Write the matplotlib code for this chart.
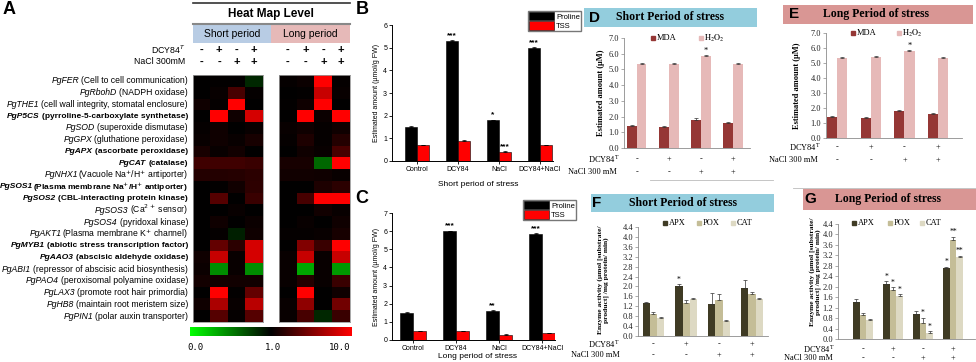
import matplotlib
matplotlib.use('Agg')
import matplotlib.pyplot as plt
import numpy as np
from matplotlib.colors import LinearSegmentedColormap, TwoSlopeNorm
from matplotlib.patches import Rectangle
from matplotlib.lines import Line2D

W, H = 976, 362

# ---------------- data ----------------
genes = ['PgFER', 'PgRbohD', 'PgTHE1', 'PgP5CS', 'PgSOD', 'PgGPX', 'PgAPX', 'PgCAT',
         'PgNHX1', 'PgSOS1', 'PgSOS2', 'PgSOS3', 'PgSOS4', 'PgAKT1', 'PgMYB1', 'PgAAO3',
         'PgABI1', 'PgPAO4', 'PgLAX3', 'PgHB8', 'PgPIN1']
gene_desc = ['(Cell to cell communication)', '(NADPH oxidase)',
             '(cell wall integrity, stomatal enclosure)', '(pyrroline-5-carboxylate synthetase)',
             '(superoxide dismutase)', '(gluthatione peroxidase)', '(ascorbate peroxidase)',
             '(catalase)', '(Vacuole Na$^{+}$/H$^{+}$ antiporter)',
             '(Plasma membrane Na$^{+}$/H$^{+}$ antiporter)', '(CBL-interacting protein kinase)',
             '(Ca$^{2+}$ sensor)', '(pyridoxal kinase)', '(Plasma membrane K$^{+}$ channel)',
             '(abiotic stress transcription factor)', '(abscisic aldehyde oxidase)',
             '(repressor of abscisic acid biosynthesis)', '(peroxisomal polyamine oxidase)',
             '(promote root hair primordia)', '(maintain root meristem size)',
             '(polar auxin transporter)']
bold_rows = [3, 6, 7, 9, 10, 14, 15]
no_space_rows = [8, 9, 13]

# fold change, columns: (-,-) (+,-) (-,+) (+,+)
short_fc = [[1.0, 1.1, 1.1, 0.85], [1.0, 1.3, 3.5, 1.2], [1.5, 1.2, 10, 1.0],
            [1.0, 10, 1.5, 8.5], [1.2, 1.5, 1.0, 1.3], [1.3, 1.5, 1.3, 1.8],
            [1.8, 1.3, 1.6, 1.0], [3.2, 3.2, 3.2, 3.0], [2.2, 2.2, 2.3, 2.5],
            [1.0, 1.1, 1.6, 2.6], [1.0, 4.0, 1.0, 3.0], [1.0, 1.0, 1.3, 1.0],
            [1.0, 1.5, 1.0, 1.4], [1.0, 1.2, 0.88, 1.5], [1.0, 4.5, 2.5, 8.5],
            [1.5, 8.0, 1.3, 8.5], [1.4, 0.45, 1.3, 0.45], [1.7, 1.7, 1.6, 1.6],
            [1.0, 10, 1.1, 4.5], [1.5, 7.0, 1.3, 7.5], [1.0, 4.0, 1.2, 4.0]]
long_fc = [[1.2, 1.4, 10, 1.2], [1.0, 1.1, 8.0, 1.3], [1.1, 1.5, 10, 1.0],
           [1.0, 10, 1.4, 10], [1.3, 1.5, 1.2, 1.5], [1.2, 2.0, 1.2, 2.2],
           [1.0, 1.5, 1.3, 3.5], [1.8, 1.8, 0.6, 10], [1.6, 1.6, 1.5, 1.3],
           [1.0, 1.0, 2.0, 2.5], [1.0, 3.5, 10, 10], [1.0, 1.0, 1.6, 1.3],
           [1.0, 1.3, 1.0, 1.5], [1.2, 1.2, 1.3, 1.8], [1.0, 5.5, 3.0, 10],
           [1.3, 8.0, 1.3, 8.0], [1.3, 0.35, 1.3, 0.4], [1.3, 2.2, 1.3, 3.0],
           [1.0, 10, 1.0, 1.5], [1.3, 6.0, 1.0, 5.0], [1.3, 3.5, 0.85, 3.0]]
dcy_signs = ['-', '+', '-', '+']
nacl_signs = ['-', '-', '+', '+']

treatments = ['Control', 'DCY84', 'NaCl', 'DCY84+NaCl']
proline_short = [1.5, 5.3, 1.8, 5.0]
proline_short_err = [0.06, 0.03, 0.03, 0.03]
tss_short = [0.7, 0.9, 0.4, 0.7]
tss_short_err = [0.02, 0.02, 0.03, 0.01]
proline_short_stars = ['', '***', '*', '***']
tss_short_stars = ['', '', '***', '']
proline_long = [1.5, 6.0, 1.6, 5.85]
proline_long_err = [0.02, 0.03, 0.04, 0.03]
tss_long = [0.5, 0.5, 0.3, 0.4]
tss_long_err = [0.02, 0.01, 0.01, 0.01]
proline_long_stars = ['', '***', '**', '***']
tss_long_stars = ['', '', '', '']

mda_short = [1.38, 1.34, 1.81, 1.59]
mda_short_err = [0.08, 0.08, 0.12, 0.08]
h2o2_short = [5.37, 5.37, 5.84, 5.37]
h2o2_short_err = [0.07, 0.07, 0.08, 0.06]
mda_long = [1.4, 1.35, 1.8, 1.6]
mda_long_err = [0.08, 0.08, 0.1, 0.08]
h2o2_long = [5.36, 5.38, 5.82, 5.36]
h2o2_long_err = [0.07, 0.07, 0.08, 0.06]
h2o2_stars = ['', '', '*', '']

apx_short = [1.32, 2.02, 1.28, 1.95]
apx_short_err = [0.06, 0.08, 0.47, 0.3]
pox_short = [0.89, 1.35, 1.44, 1.69]
pox_short_err = [0.08, 0.12, 0.27, 0.1]
cat_short = [0.71, 1.48, 0.59, 1.48]
cat_short_err = [0.06, 0.04, 0.04, 0.04]
apx_short_stars = ['', '*', '', '']

apx_long = [1.43, 2.11, 0.97, 2.71]
apx_long_err = [0.1, 0.1, 0.1, 0.06]
pox_long = [0.93, 1.88, 0.61, 3.79]
pox_long_err = [0.06, 0.1, 0.2, 0.12]
cat_long = [0.74, 1.65, 0.23, 3.12]
cat_long_err = [0.04, 0.06, 0.06, 0.06]
apx_long_stars = ['', '*', '', '*']
pox_long_stars = ['', '*', '*', '**']
cat_long_stars = ['', '*', '*', '**']

SANS = 'Liberation Sans'
SERIF = 'Liberation Serif'

fig = plt.figure(figsize=(W / 100, H / 100), dpi=100)


def px_box(x0, y0, x1, y1):
    return [x0 / W, 1 - y1 / H, (x1 - x0) / W, (y1 - y0) / H]


def txt(x, y, s, **kw):
    return fig.text(x / W, 1 - y / H, s, **kw)


def rect(x0, y0, x1, y1, **kw):
    fig.add_artist(Rectangle((x0 / W, 1 - y1 / H), (x1 - x0) / W, (y1 - y0) / H,
                             transform=fig.transFigure, **kw))


def hline(x0, x1, y, **kw):
    fig.add_artist(Line2D([x0 / W, x1 / W], [1 - y / H, 1 - y / H],
                          transform=fig.transFigure, **kw))


# ---------------- panel A: heat map ----------------
txt(9, 10, 'A', fontsize=13, fontweight='bold', family=SANS, ha='center', va='center')
hline(193, 350, 3, color='#333333', lw=1.2)
txt(271, 14, 'Heat Map Level', fontsize=8.5, fontweight='bold', family=SANS, ha='center', va='center')
hline(193, 350, 24, color='#888888', lw=1.5)
rect(193, 25, 271, 43, facecolor='#b8cce4', edgecolor='none')
rect(271, 25, 350, 43, facecolor='#e6b9b8', edgecolor='none')
txt(232, 34, 'Short period', fontsize=7.5, family=SANS, ha='center', va='center')
txt(310, 34, 'Long period', fontsize=7.5, family=SANS, ha='center', va='center')
txt(185, 50, 'DCY84$^{T}$', fontsize=6.3, family=SANS, ha='right', va='center')
txt(185, 62, 'NaCl 300mM', fontsize=6.3, family=SANS, ha='right', va='center')

cmap = LinearSegmentedColormap.from_list('gkr', ['#00ff00', '#000000', '#ff0000'])
norm = TwoSlopeNorm(vmin=0, vcenter=1, vmax=10)
for data, (x0, x1) in [(short_fc, (193, 263)), (long_fc, (279, 350))]:
    ax = fig.add_axes(px_box(x0, 75, x1, 322))
    ax.imshow(np.array(data), cmap=cmap, norm=norm, aspect='auto', interpolation='nearest')
    ax.set_xticks([])
    ax.set_yticks([])
    for sp in ax.spines.values():
        sp.set_color('#999999')
        sp.set_linewidth(0.6)
    cw = (x1 - x0) / 4
    for j in range(4):
        cx = x0 + cw * (j + 0.5)
        txt(cx, 50, dcy_signs[j], fontsize=8, fontweight='bold', family=SANS, ha='center', va='center')
        txt(cx, 62, nacl_signs[j], fontsize=8, fontweight='bold', family=SANS, ha='center', va='center')

renderer = fig.canvas.get_renderer()
row_h = (322 - 75) / len(genes)
for i, (g, d) in enumerate(zip(genes, gene_desc)):
    y = 75 + (i + 0.5) * row_h
    bold = i in bold_rows
    w = 'bold' if bold else 'normal'
    fs = 6.0 if bold else 6.2
    t = txt(188, y, d, fontsize=fs, fontweight=w, family=SANS, ha='right', va='center')
    bb = t.get_window_extent(renderer)
    gap = 0 if i in no_space_rows else 2
    txt(bb.x0 - gap, y, g, fontsize=fs, fontweight=w, style='italic', family=SANS,
        ha='right', va='center')

cax = fig.add_axes(px_box(190, 327, 352, 336))
cax.imshow(np.linspace(0, 1, 256)[None, :], cmap=cmap, aspect='auto')
cax.set_xticks([])
cax.set_yticks([])
for sp in cax.spines.values():
    sp.set_visible(False)
txt(195, 348, '0.0', fontsize=6.5, family='DejaVu Sans Mono', ha='center', va='center')
txt(273, 348, '1.0', fontsize=6.5, family='DejaVu Sans Mono', ha='center', va='center')
txt(340, 348, '10.0', fontsize=6.5, family='DejaVu Sans Mono', ha='center', va='center')


# ---------------- panels B and C ----------------
def proline_panel(box, xlim, ymax, prol, prol_err, tss, tss_err, p_stars, t_stars,
                  letter, letter_y, xlabel, xlabel_y, legend_xy):
    ax = fig.add_axes(px_box(*box))
    x = np.arange(len(treatments))
    ax.bar(x - 0.15, prol, 0.3, color='black', edgecolor='black', lw=0.4, label='Proline')
    ax.bar(x + 0.15, tss, 0.3, color='#ff0000', edgecolor='black', lw=0.4, label='TSS')
    ax.errorbar(x - 0.15, prol, yerr=[[0] * 4, prol_err], fmt='none', ecolor='black',
                elinewidth=0.5, capsize=1.5, capthick=0.5)
    ax.errorbar(x + 0.15, tss, yerr=[[0] * 4, tss_err], fmt='none', ecolor='black',
                elinewidth=0.5, capsize=1.5, capthick=0.5)
    for i in range(4):
        if p_stars[i]:
            ax.text(x[i] - 0.15, prol[i] + prol_err[i] + 0.05, p_stars[i], ha='center',
                    va='bottom', fontsize=6, fontweight='bold', family=SANS)
        if t_stars[i]:
            ax.text(x[i] + 0.15, tss[i] + tss_err[i] + 0.05, t_stars[i], ha='center',
                    va='bottom', fontsize=6, fontweight='bold', family=SANS)
    ax.set_xlim(*xlim)
    ax.set_ylim(0, ymax)
    ax.set_yticks(range(ymax + 1))
    ax.set_xticks(x)
    ax.set_xticklabels(treatments, fontsize=5, family=SANS)
    ax.tick_params(axis='both', labelsize=5, length=2, width=0.6, pad=1.5)
    for lab in ax.get_yticklabels():
        lab.set_family(SANS)
    for s in ['top', 'right']:
        ax.spines[s].set_visible(False)
    for s in ['left', 'bottom']:
        ax.spines[s].set_linewidth(0.7)
    ax.set_ylabel('Estimated amount (\u00b5mol/g FW)', fontsize=5, family=SANS, labelpad=2)
    txt(362, letter_y, letter, fontsize=13, fontweight='bold', family=SANS,
        ha='center', va='center')
    txt(478, xlabel_y, xlabel, fontsize=6, family=SANS, ha='center', va='center')
    ax.legend(loc='upper left', bbox_to_anchor=(legend_xy[0] / W, 1 - legend_xy[1] / H),
              bbox_transform=fig.transFigure, frameon=True, fancybox=False,
              edgecolor='#555555', handlelength=3.2, handleheight=1.3, borderpad=0.15,
              labelspacing=0.05, handletextpad=0.3, borderaxespad=0,
              prop={'family': SANS, 'size': 5.5})


proline_panel((392, 25, 553, 161), (-0.61, 3.32), 6, proline_short, proline_short_err,
              tss_short, tss_short_err, proline_short_stars, tss_short_stars,
              'B', 10, 'Short period of stress', 184, (528, 11))
proline_panel((392, 213, 555, 340), (-0.49, 3.3), 7, proline_long, proline_long_err,
              tss_long, tss_long_err, proline_long_stars, tss_long_stars,
              'C', 198, 'Long period of stress', 357, (523, 200))


# ---------------- panels D - G ----------------
BLUE = '#93cddd'
PINK = '#d99694'


def title_box(x0, y0, x1, y1, color, letter, letter_x, title, title_x):
    rect(x0, y0, x1, y1, facecolor=color, edgecolor='none')
    yc = (y0 + y1) / 2
    txt(letter_x, yc, letter, fontsize=11, fontweight='bold', family=SANS, ha='center', va='center')
    txt(title_x, yc, title, fontsize=8.5, fontweight='bold', family=SERIF,
        ha='center', va='center')


def style_axes(ax, xlim, ymax, ystep):
    ax.set_xlim(*xlim)
    ax.set_ylim(0, ymax)
    ticks = np.arange(0, ymax + 1e-6, ystep)
    ax.set_yticks(ticks)
    ax.set_yticklabels(['%.1f' % v for v in ticks], fontsize=6, family=SERIF)
    ax.set_xticks([])
    ax.tick_params(axis='y', length=2, width=0.5, pad=1.5, color='#888888', labelcolor='#222222')
    for s in ['top', 'right']:
        ax.spines[s].set_visible(False)
    for s in ['left', 'bottom']:
        ax.spines[s].set_color('#8c8c8c')
        ax.spines[s].set_linewidth(0.6)


def sign_rows(centers, y_dcy, y_nacl, lab_x, lab_x2):
    txt(lab_x, y_dcy, 'DCY84$^{\\mathrm{T}}$', fontsize=6, family=SERIF, math_fontfamily='stix',
        ha='right', va='center')
    txt(lab_x2, y_nacl, 'NaCl 300 mM', fontsize=6, family=SERIF, ha='right', va='center')
    for c, s1, s2 in zip(centers, dcy_signs, nacl_signs):
        txt(c, y_dcy, s1, fontsize=6, family=SERIF, ha='center', va='center')
        txt(c, y_nacl, s2, fontsize=6, family=SERIF, ha='center', va='center')


def legend_items(items, y):
    for x, color, label in items:
        fig.add_artist(Line2D([x / W], [1 - y / H], marker='s', markersize=3.2, color=color,
                              lw=0, transform=fig.transFigure))
        txt(x + 3.5, y, label, fontsize=6, family=SERIF, math_fontfamily='stix',
            ha='left', va='center')


def mda_panel(box, xlim, mda, mda_err, h2o2, h2o2_err, ylabel_x):
    ax = fig.add_axes(px_box(*box))
    x = np.arange(4)
    ax.bar(x - 0.15, mda, 0.3, color='#953735')
    ax.bar(x + 0.15, h2o2, 0.3, color='#e6b9b8')
    ax.errorbar(x - 0.15, mda, yerr=[[0] * 4, mda_err], fmt='none', ecolor='#333333',
                elinewidth=0.5, capsize=1.2, capthick=0.5)
    ax.errorbar(x + 0.15, h2o2, yerr=[[0] * 4, h2o2_err], fmt='none', ecolor='#333333',
                elinewidth=0.5, capsize=1.2, capthick=0.5)
    for i in range(4):
        if h2o2_stars[i]:
            ax.text(x[i] + 0.15, h2o2[i] + h2o2_err[i], h2o2_stars[i], ha='center',
                    va='bottom', fontsize=6, family=SERIF)
    style_axes(ax, xlim, 7, 1)
    yc = (box[1] + box[3]) / 2
    txt(ylabel_x, yc, 'Estimated amount (\u00b5M)', fontsize=6, fontweight='bold',
        family=SERIF, rotation=90, ha='center', va='center')
    return [box[0] + (c - xlim[0]) / (xlim[1] - xlim[0]) * (box[2] - box[0]) for c in x]


def enzyme_panel(box, xlim, apx, apx_err, pox, pox_err, cat, cat_err, stars, ylabel_x, ylabel_y):
    ax = fig.add_axes(px_box(*box))
    x = np.arange(4)
    bw = 0.22
    series = [(apx, apx_err, '#3f3b24', stars[0]), (pox, pox_err, '#c4bd97', stars[1]),
              (cat, cat_err, '#ddd9c3', stars[2])]
    for k, (vals, err, color, st) in enumerate(series):
        xs = x + (k - 1) * bw
        ax.bar(xs, vals, bw, color=color)
        ax.errorbar(xs, vals, yerr=[[0] * 4, err], fmt='none', ecolor='#333333',
                    elinewidth=0.5, capsize=1.2, capthick=0.5)
        for i in range(4):
            if st[i]:
                ax.text(xs[i], vals[i] + err[i] + 0.02, st[i], ha='center', va='bottom',
                        fontsize=5.5, family=SERIF)
    style_axes(ax, xlim, 4.4, 0.4)
    txt(ylabel_x, ylabel_y, 'Enzyme activity (\u00b5mol [substrate/\nproduct] /mg protein/ min)',
        fontsize=5.4, fontweight='bold', family=SERIF, rotation=90, ha='center', va='center',
        linespacing=1.1)
    return [box[0] + (c - xlim[0]) / (xlim[1] - xlim[0]) * (box[2] - box[0]) for c in x]


H2O2_LABEL = '$\\mathrm{H_2O_2}$'

# D
title_box(584, 8, 757, 27, BLUE, 'D', 594, 'Short Period of stress', 670)
cD = mda_panel((624, 38, 750, 148), (-0.4, 3.53), mda_short, mda_short_err,
               h2o2_short, h2o2_short_err, 601)
legend_items([(653, '#953735', 'MDA'), (701, '#e6b9b8', H2O2_LABEL)], 38)
sign_rows(cD, 159, 172, 620, 617)

# E
title_box(783, 5, 973, 24, PINK, 'E', 794, 'Long Period of stress', 876)
cE = mda_panel((826, 33, 962, 138), (-0.33, 3.71), mda_long, mda_long_err,
               h2o2_long, h2o2_long_err, 797)
legend_items([(853, '#953735', 'MDA'), (899, '#e6b9b8', H2O2_LABEL)], 33)
sign_rows(cE, 147, 160, 821, 818)

# F
title_box(591, 194, 774, 212, BLUE, 'F', 597, 'Short Period of stress', 683)
cF = enzyme_panel((638, 227, 768, 336), (-0.47, 3.49), apx_short, apx_short_err,
                  pox_short, pox_short_err, cat_short, cat_short_err,
                  [apx_short_stars, ['', '', '', ''], ['', '', '', '']], 603, 280)
legend_items([(665, '#3f3b24', 'APX'), (699, '#c4bd97', 'POX'), (733, '#ddd9c3', 'CAT')], 223)
sign_rows(cF, 344, 355, 620, 620)

# G
title_box(803, 189, 976, 210, PINK, 'G', 810, 'Long Period of stress', 888)
cG = enzyme_panel((838, 224, 975, 339), (-0.83, 3.73), apx_long, apx_long_err,
                  pox_long, pox_long_err, cat_long, cat_long_err,
                  [apx_long_stars, pox_long_stars, cat_long_stars], 815, 272)
legend_items([(854, '#3f3b24', 'APX'), (890, '#c4bd97', 'POX'), (922, '#ddd9c3', 'CAT')], 223)
sign_rows(cG, 349, 358.5, 835, 833)

# faint separators
hline(650, 773, 180, color='#bbbbbb', lw=0.6)
hline(793, 976, 188, color='#bbbbbb', lw=0.6)

fig.savefig('out.png', dpi=100)
